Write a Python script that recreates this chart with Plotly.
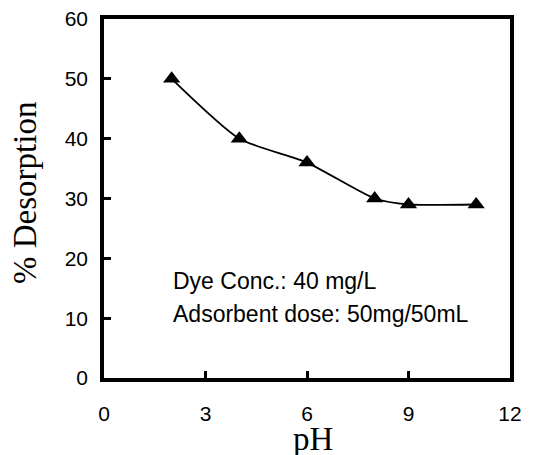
import plotly.graph_objects as go

ph = [2, 4, 6, 8, 9, 11]
desorption = [50, 40, 36, 30, 29, 29]
x_ticks = [0, 3, 6, 9, 12]
y_ticks = [0, 10, 20, 30, 40, 50, 60]

# Target plot area in window pixels (page body adds an 8px offset)
L, R, T, B = 104, 510, 19, 378
OFF = 8
W, H = 535, 455

def px_x(X):
    return (X - L) / (R - L)

def px_y(Y):
    return (B - Y) / (B - T)

fig = go.Figure()
fig.add_trace(go.Scatter(
    x=ph, y=desorption, mode="lines+markers",
    line=dict(color="black", width=1.8, shape="spline", smoothing=0.6),
    marker=dict(symbol="triangle-up", size=15, color="black"),
    showlegend=False, cliponaxis=False,
))

sans = "Liberation Sans, Arial"
serif = "Liberation Serif, Times New Roman"

axis_common = dict(
    showline=True, linecolor="black", linewidth=3.5, mirror=True,
    ticks="inside", ticklen=7, tickwidth=2.5, tickcolor="black",
    showgrid=False, zeroline=False, automargin=False,
    ticklabeloverflow="allow",
    tickfont=dict(family=sans, size=21, color="black"),
)

fig.update_xaxes(range=[0, 12], tickvals=x_ticks, ticklabelstandoff=14, **axis_common)
fig.update_yaxes(range=[0, 60], tickvals=y_ticks, ticklabelstandoff=8, **axis_common)

fig.add_annotation(x=px_x(171), y=px_y(281), xref="paper", yref="paper",
                   text="Dye Conc.: 40 mg/L", showarrow=False, xanchor="left", yanchor="middle",
                   font=dict(family=sans, size=23, color="black"))
fig.add_annotation(x=px_x(171), y=px_y(314), xref="paper", yref="paper",
                   text="Adsorbent dose: 50mg/50mL", showarrow=False, xanchor="left", yanchor="middle",
                   font=dict(family=sans, size=23, color="black"))

# axis titles
fig.add_annotation(x=px_x(313), y=px_y(439), xref="paper", yref="paper",
                   text="pH", showarrow=False, xanchor="center", yanchor="middle",
                   font=dict(family=serif, size=33, color="black"))
fig.add_annotation(x=px_x(25), y=px_y(193), xref="paper", yref="paper",
                   text="% Desorption", showarrow=False, xanchor="center", yanchor="middle",
                   textangle=-90, font=dict(family=serif, size=33, color="black"))

fig.update_layout(
    width=W, height=H,
    margin=dict(l=L - OFF, r=W + OFF - R, t=T - OFF, b=H + OFF - B, autoexpand=False),
    plot_bgcolor="white", paper_bgcolor="white",
)
fig.write_html("out.html")
